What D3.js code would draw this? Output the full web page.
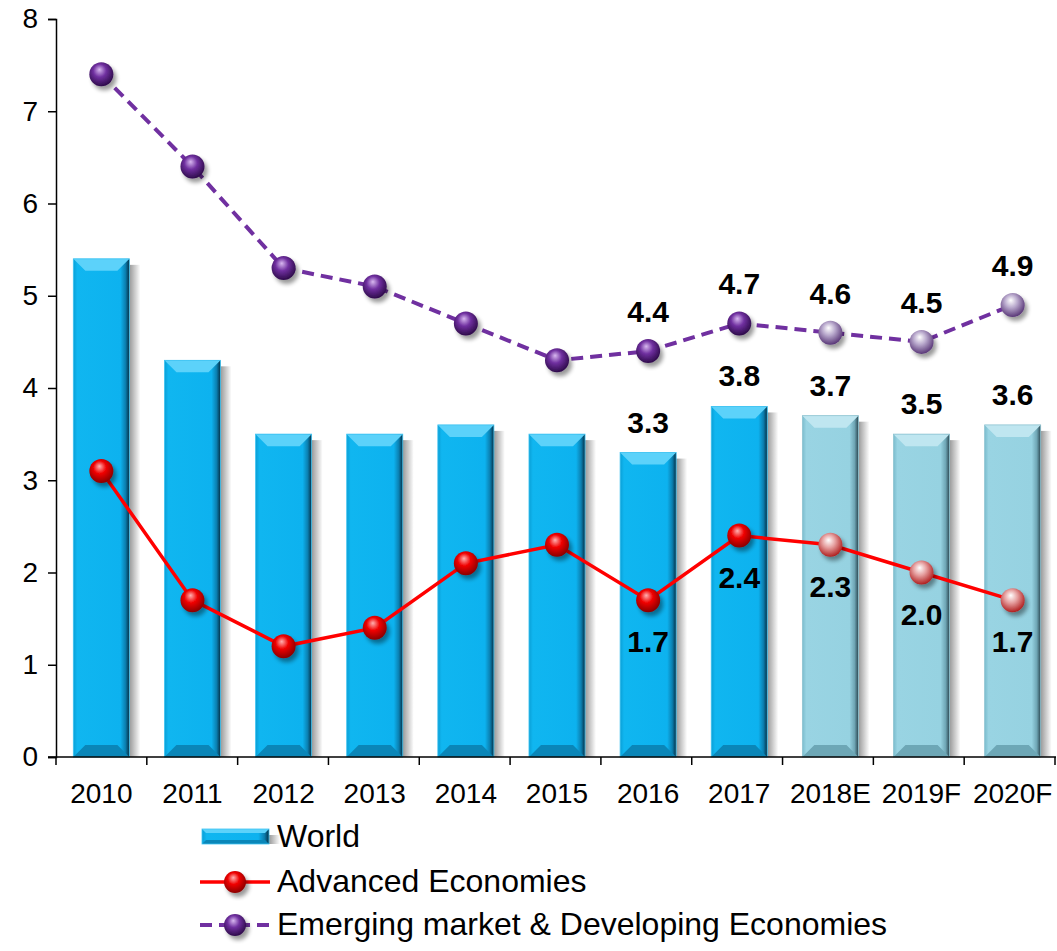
<!DOCTYPE html>
<html>
<head>
<meta charset="utf-8">
<script src="https://cdn.jsdelivr.net/npm/d3@7"></script>
<style>
  body { margin: 0; background: #fff; }
  text { font-family: "Liberation Sans", Arial, sans-serif; }
</style>
</head>
<body>
<div id="chart"></div>
<script>
var years = ["2010", "2011", "2012", "2013", "2014", "2015", "2016", "2017", "2018E", "2019F", "2020F"];
var world = [5.4, 4.3, 3.5, 3.5, 3.6, 3.5, 3.3, 3.8, 3.7, 3.5, 3.6];
var advanced = [3.1, 1.7, 1.2, 1.4, 2.1, 2.3, 1.7, 2.4, 2.3, 2.0, 1.7];
var emerging = [7.4, 6.4, 5.3, 5.1, 4.7, 4.3, 4.4, 4.7, 4.6, 4.5, 4.9];
var yTicks = [0, 1, 2, 3, 4, 5, 6, 7, 8];
var labelFrom = 6;    // values are labelled from 2016 on
var forecastFrom = 8; // 2018E and later use the pale style

var width = 1057, height = 951;
var margin = {left: 56, top: 19, bottom: 757};

var svg = d3.select("#chart").append("svg")
    .attr("width", width)
    .attr("height", height);

var defs = svg.append("defs");

function hGrad(id, stops) {
    var g = defs.append("linearGradient").attr("id", id)
        .attr("x1", 0).attr("x2", 1).attr("y1", 0).attr("y2", 0);
    stops.forEach(function(s) {
        g.append("stop").attr("offset", s[0]).attr("stop-color", s[1]).attr("stop-opacity", s[2] == null ? 1 : s[2]);
    });
}
function ball(id, light, mid, dark) {
    var g = defs.append("radialGradient").attr("id", id)
        .attr("cx", 0.45).attr("cy", 0.4).attr("r", 0.6).attr("fx", 0.42).attr("fy", 0.3);
    g.append("stop").attr("offset", 0).attr("stop-color", light);
    g.append("stop").attr("offset", 0.45).attr("stop-color", mid);
    g.append("stop").attr("offset", 1).attr("stop-color", dark);
}

hGrad("barBlue", [[0, "#0a9fd6"], [0.07, "#10b6f0"], [0.84, "#0db2ef"], [0.93, "#0b7fb0"], [1, "#042f45"]]);
hGrad("barPale", [[0, "#7bbccd"], [0.07, "#99d4e3"], [0.84, "#96d2e1"], [0.93, "#6fa6b5"], [1, "#2a4650"]]);
hGrad("shadow", [[0, "#000", 0.4], [1, "#000", 0]]);
ball("ballRed", "#ffb0b0", "#f00000", "#8a0000");
ball("ballRedPale", "#ffffff", "#e6a0a0", "#b02020");
ball("ballPurple", "#d8b8f0", "#7030a0", "#2e0b4a");
ball("ballPurplePale", "#ffffff", "#b8a8cc", "#5a3878");

var shadowF = defs.append("filter").attr("id", "drop").attr("x", "-50%").attr("y", "-50%").attr("width", "200%").attr("height", "200%");
shadowF.append("feGaussianBlur").attr("in", "SourceAlpha").attr("stdDeviation", 2);
shadowF.append("feOffset").attr("dx", 3).attr("dy", 4).attr("result", "o");
shadowF.append("feComponentTransfer").append("feFuncA").attr("type", "linear").attr("slope", 0.4);
var fm = shadowF.append("feMerge");
fm.append("feMergeNode");
fm.append("feMergeNode").attr("in", "SourceGraphic");

var x = d3.scaleBand()
    .domain(years)
    .range([margin.left, 1058])
    .paddingInner(0.385)
    .paddingOuter(0.19);

var y = d3.scaleLinear()
    .domain([0, 8])
    .range([margin.bottom, margin.top]);

var xc = function(i) { return x(years[i]) + x.bandwidth() / 2; };

// bars
function drawBar(g, bx, by, bw, bh, pale, bev) {
    g.append("rect")
        .attr("x", bx + bw).attr("y", by + 6)
        .attr("width", 11).attr("height", Math.max(0, bh - 6))
        .attr("fill", "url(#shadow)");
    g.append("rect")
        .attr("x", bx).attr("y", by)
        .attr("width", bw).attr("height", bh)
        .attr("fill", pale ? "url(#barPale)" : "url(#barBlue)");
    var top = pale ? "#bfe6f0" : "#5cd2fa";
    var bot = pale ? "#6da7b6" : "#0a86b8";
    g.append("path")
        .attr("d", "M" + bx + "," + by + "L" + (bx + bw) + "," + by +
            "L" + (bx + bw - bev) + "," + (by + bev) + "L" + (bx + bev) + "," + (by + bev) + "Z")
        .attr("fill", top);
    g.append("path")
        .attr("d", "M" + bx + "," + (by + bh) + "L" + (bx + bw) + "," + (by + bh) +
            "L" + (bx + bw - bev) + "," + (by + bh - bev) + "L" + (bx + bev) + "," + (by + bh - bev) + "Z")
        .attr("fill", bot);
    g.append("rect")
        .attr("x", bx).attr("y", by)
        .attr("width", bw).attr("height", bh)
        .attr("fill", "none")
        .attr("stroke", pale ? "#8ec3d1" : "#3ec3f2")
        .attr("stroke-width", 0.8);
}

var bars = svg.append("g");
world.forEach(function(v, i) {
    drawBar(bars, x(years[i]), y(v), x.bandwidth(), y(0) - y(v), i >= forecastFrom, 12);
});

// axes
var yAxis = svg.append("g")
    .attr("transform", "translate(" + margin.left + ",0)")
    .call(d3.axisLeft(y).tickValues(yTicks).tickSize(8).tickPadding(10));
yAxis.select(".domain").attr("stroke", "#000").attr("stroke-width", 1.5);
yAxis.selectAll(".tick line").attr("stroke", "#000").attr("stroke-width", 1.5);
yAxis.selectAll(".tick text").attr("font-size", 28).attr("fill", "#000")
    .style("font-family", "Liberation Sans, Arial, sans-serif");

var xAxisG = svg.append("g");
xAxisG.append("line")
    .attr("x1", margin.left - 8).attr("x2", 1056)
    .attr("y1", y(0)).attr("y2", y(0))
    .attr("stroke", "#000").attr("stroke-width", 1.5);
var bounds = d3.range(years.length + 1).map(function(i) {
    return margin.left + i * (1055 - margin.left) / years.length;
});
xAxisG.selectAll(".xt").data(bounds).enter().append("line")
    .attr("x1", function(d) { return d; }).attr("x2", function(d) { return d; })
    .attr("y1", y(0)).attr("y2", y(0) + 8)
    .attr("stroke", "#000").attr("stroke-width", 1.5);
xAxisG.selectAll(".xl").data(years).enter().append("text")
    .attr("x", function(d, i) { return xc(i); })
    .attr("y", 803)
    .attr("text-anchor", "middle")
    .attr("font-size", 28)
    .text(function(d) { return d; });

// lines
var line = d3.line()
    .x(function(d, i) { return xc(i); })
    .y(function(d) { return y(d); });

svg.append("path").datum(emerging)
    .attr("d", line)
    .attr("fill", "none")
    .attr("stroke", "#7030a0")
    .attr("stroke-width", 4)
    .attr("stroke-dasharray", "12,7");

svg.append("path").datum(advanced)
    .attr("d", line)
    .attr("fill", "none")
    .attr("stroke", "#ff0000")
    .attr("stroke-width", 3.5);

function markers(data, normal, pale) {
    svg.append("g").selectAll("circle").data(data).enter().append("circle")
        .attr("cx", function(d, i) { return xc(i); })
        .attr("cy", function(d) { return y(d); })
        .attr("r", 12)
        .attr("fill", function(d, i) { return i >= forecastFrom ? pale : normal; })
        .attr("filter", "url(#drop)");
}
markers(emerging, "url(#ballPurple)", "url(#ballPurplePale)");
markers(advanced, "url(#ballRed)", "url(#ballRedPale)");

// data labels
function valueLabels(data, dy) {
    var g = svg.append("g");
    data.forEach(function(v, i) {
        if (i < labelFrom) return;
        g.append("text")
            .attr("x", xc(i))
            .attr("y", y(v) + dy)
            .attr("text-anchor", "middle")
            .attr("font-size", 30)
            .attr("font-weight", "bold")
            .text(d3.format(".1f")(v));
    });
}
valueLabels(world, -20);
valueLabels(emerging, -29);
valueLabels(advanced, 52);

// legend
var lg = svg.append("g");
drawBar(lg, 202, 829, 67, 15, false, 4);
lg.append("text").attr("x", 277).attr("y", 847).attr("font-size", 32).text("World");

lg.append("line").attr("x1", 200).attr("x2", 270).attr("y1", 882).attr("y2", 882)
    .attr("stroke", "#ff0000").attr("stroke-width", 3.5);
lg.append("circle").attr("cx", 235).attr("cy", 882).attr("r", 11).attr("fill", "url(#ballRed)").attr("filter", "url(#drop)");
lg.append("text").attr("x", 277).attr("y", 892).attr("font-size", 32).text("Advanced Economies");

lg.append("line").attr("x1", 200).attr("x2", 270).attr("y1", 925).attr("y2", 925)
    .attr("stroke", "#7030a0").attr("stroke-width", 4).attr("stroke-dasharray", "12,7");
lg.append("circle").attr("cx", 235).attr("cy", 925).attr("r", 11).attr("fill", "url(#ballPurple)").attr("filter", "url(#drop)");
lg.append("text").attr("x", 277).attr("y", 935).attr("font-size", 32).text("Emerging market & Developing Economies");
</script>
</body>
</html>
